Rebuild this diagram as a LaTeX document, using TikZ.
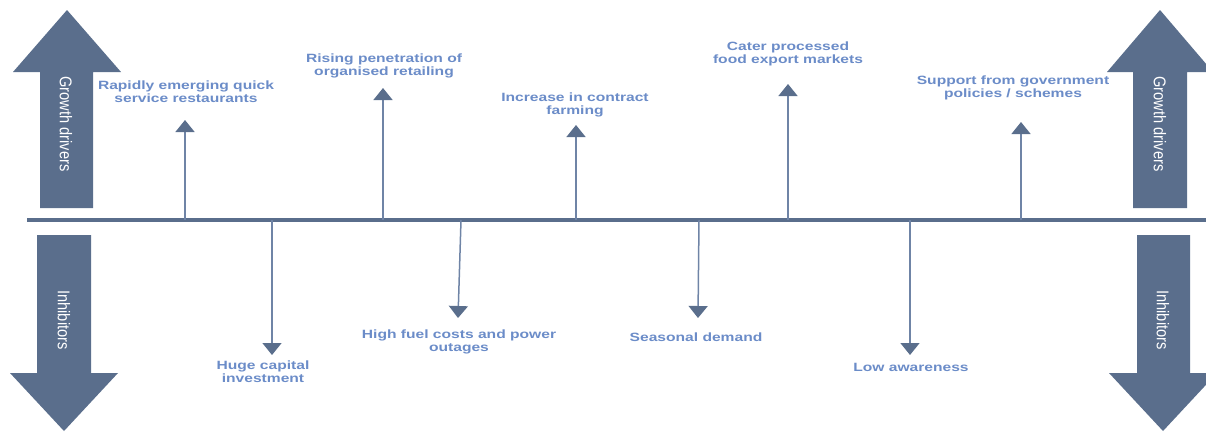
\documentclass[tikz,border=0pt]{standalone}
\usepackage{fontspec}
\newfontfamily\labelfont[FakeStretch=1.3]{Liberation Sans}
\newfontfamily\sidefont[FakeStretch=0.86]{Liberation Sans}
\usetikzlibrary{arrows.meta}
\definecolor{slate}{HTML}{5A6E8C}
\definecolor{stem}{HTML}{6F84A6}
\definecolor{labelblue}{HTML}{6B8CC8}

\begin{document}
\begin{tikzpicture}[x=1pt,y=-1pt]
\tikzset{pointer/.style={draw=stem, line width=1.5pt, -{Triangle[width=19pt,length=12pt,fill=slate,color=slate]}},
  factor/.style={font=\labelfont\bfseries\fontsize{12}{13}\selectfont, text=labelblue, align=center, inner sep=0pt},
  side/.style={font=\sidefont\fontsize{17}{17}\selectfont, text=white, inner sep=0pt}}
\useasboundingbox (0,0) rectangle (1206,432);
% big arrows
\fill[slate] (40,208) -- (40,72) -- (13,72) -- (67,10) -- (121,72) -- (93,72) -- (93,208) -- cycle;
\fill[slate] (37,235) -- (91,235) -- (91,373) -- (118,373) -- (64,431) -- (10,373) -- (37,373) -- cycle;
\fill[slate] (1133,208) -- (1133,72) -- (1107,72) -- (1160,10) -- (1213,72) -- (1187,72) -- (1187,208) -- cycle;
\fill[slate] (1137,235) -- (1190,235) -- (1190,373) -- (1217,373) -- (1163,431) -- (1109,373) -- (1137,373) -- cycle;
\node[side, rotate=-90] (GL) at (66,124) {Growth drivers};
\node[side, rotate=-90] (IL) at (64,320) {Inhibitors};
\node[side, rotate=-90] (GR) at (1160,124) {Growth drivers};
\node[side, rotate=-90] (IR) at (1163,320) {Inhibitors};
% axis
\coordinate (axL) at (27,220);
\coordinate (axR) at (1206,220);
\draw[slate, line width=3.2pt] (axL) -- (axR);
% drivers
\node[factor] (D1) at (186,92) {Rapidly emerging quick\\service restaurants};
\node[factor] (D2) at (384,66) {Rising penetration of\\organised retailing};
\node[factor] (D3) at (575,105) {Increase in contract\\farming};
\node[factor] (D4) at (788,54) {Cater processed\\food export markets};
\node[factor] (D5) at (1013,88) {Support from government\\policies / schemes};
\coordinate (g1) at (185,220); \coordinate (t1) at (185,120);
\coordinate (g2) at (383,220); \coordinate (t2) at (383,88);
\coordinate (g3) at (576,220); \coordinate (t3) at (576,125);
\coordinate (g4) at (788,220); \coordinate (t4) at (788,84);
\coordinate (g5) at (1021,220); \coordinate (t5) at (1021,122);
\draw[pointer] (g1) -- (t1);
\draw[pointer] (g2) -- (t2);
\draw[pointer] (g3) -- (t3);
\draw[pointer] (g4) -- (t4);
\draw[pointer] (g5) -- (t5);
% inhibitors
\node[factor] (I1) at (263,372) {Huge capital\\investment};
\node[factor] (I2) at (459,342) {High fuel costs and power\\outages};
\node[factor] (I3) at (696,337) {Seasonal demand};
\node[factor] (I4) at (911,367) {Low awareness};
\coordinate (h1) at (272,220); \coordinate (b1) at (272,355);
\coordinate (h2) at (461,220); \coordinate (b2) at (458,318);
\coordinate (h3) at (699,220); \coordinate (b3) at (698,318);
\coordinate (h4) at (910,220); \coordinate (b4) at (910,355);
\draw[pointer] (h1) -- (b1);
\draw[pointer] (h2) -- (b2);
\draw[pointer] (h3) -- (b3);
\draw[pointer] (h4) -- (b4);
\end{tikzpicture}
\end{document}
